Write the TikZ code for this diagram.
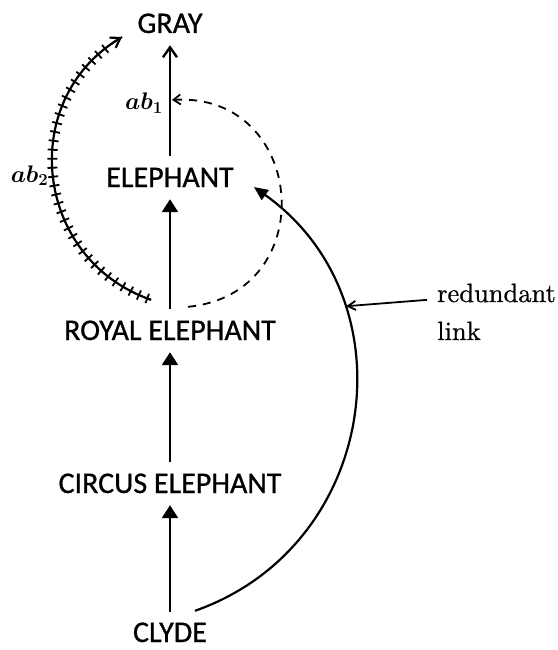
\RequirePackage{fix-cm}
\documentclass[tikz,border=0pt]{standalone}
\usepackage{fontspec}
\newfontfamily\capsfont{Carlito}[FakeBold=0.8]
\newfontfamily\notefont{lmroman10-regular}[Extension=.otf, FakeBold=0.6]
\usetikzlibrary{arrows.meta,decorations.pathreplacing}
\begin{document}
\begin{tikzpicture}[x=1pt,y=-1pt,
  term/.style={font=\capsfont\fontsize{30}{36}\selectfont, text height=19pt, text depth=0pt,
               inner xsep=20pt, inner ysep=12pt, anchor=base},
  isa/.style={line width=2.6pt, -{Triangle[length=13pt,width=16pt]}},
  mathlbl/.style={inner sep=0pt, font=\fontsize{24}{29}\selectfont\boldmath},
  notelbl/.style={anchor=base west, inner xsep=10pt, inner ysep=0pt, font=\notefont\fontsize{26.5}{32}\selectfont},
  tickdeco/.style={line width=1.8pt, decorate,
        decoration={ticks, segment length=9pt, amplitude=5pt, pre length=4pt, post length=13pt}}]
\useasboundingbox (0,0) rectangle (557,650);

% nodes
\node[term] (gray)   at (170,33)  {GRAY};
\node[term] (eleph)  at (170,187) {ELEPHANT};
\node[term] (royal)  at (170,340) {ROYAL ELEPHANT};
\node[term] (circus) at (170,493) {CIRCUS ELEPHANT};
\node[term, inner ysep=3pt] (clyde)  at (170,642) {CLYDE};

% straight links
\draw[isa] (royal) -- (eleph);
\draw[isa] (circus) -- (royal);
\draw[isa, shorten <=8pt] (clyde) -- (circus);
\draw[line width=2.4pt, -{Straight Barb[length=10pt,width=14pt]}]
  (eleph) -- coordinate[pos=0.505] (abone) (gray);

% dashed arc to ab1
\draw[line width=1.8pt, dash pattern=on 8pt off 7pt, -{Straight Barb[length=7pt,width=10pt]}]
  ([xshift=18pt,yshift=2pt]royal.north) to[out=5.5, in=3.3, looseness=1.67] ([xshift=2pt]abone);
\node[mathlbl, anchor=base east] (ab1) at ([xshift=-7pt,yshift=-10pt]abone) {$ab_1$};

% ticked arc ab2
\draw[line width=2.2pt, -{Straight Barb[length=9pt,width=12pt]}]
  ([xshift=-19pt,yshift=9pt]royal.north) to[out=160.8, in=211.3, looseness=1.195]
  coordinate[pos=0.49] (abtwo) ([xshift=-48pt,yshift=-4pt]gray.base);
\path[draw, tickdeco]
  ([xshift=-19pt,yshift=9pt]royal.north) to[out=160.8, in=211.3, looseness=1.195]
  ([xshift=-48pt,yshift=-4pt]gray.base);
\node[mathlbl, anchor=base east] (ab2) at ([xshift=-5pt,yshift=-2pt]abtwo) {$ab_2$};

% redundant link
\draw[line width=2.2pt, -{Triangle[length=14pt,width=12pt]}]
  ([xshift=25pt,yshift=9pt]clyde.north) to[out=19.4, in=-35.4, looseness=1.165]
  coordinate[pos=0.72] (rlpt) (eleph.base east);

\node[notelbl] (red) at (427,302) {redundant};
\node[notelbl] (lnk) at (427,340) {link};
\draw[line width=1.8pt, -{Straight Barb[length=8pt,width=9pt]}] (red.mid west) -- ([xshift=3pt]rlpt);
\end{tikzpicture}
\end{document}
